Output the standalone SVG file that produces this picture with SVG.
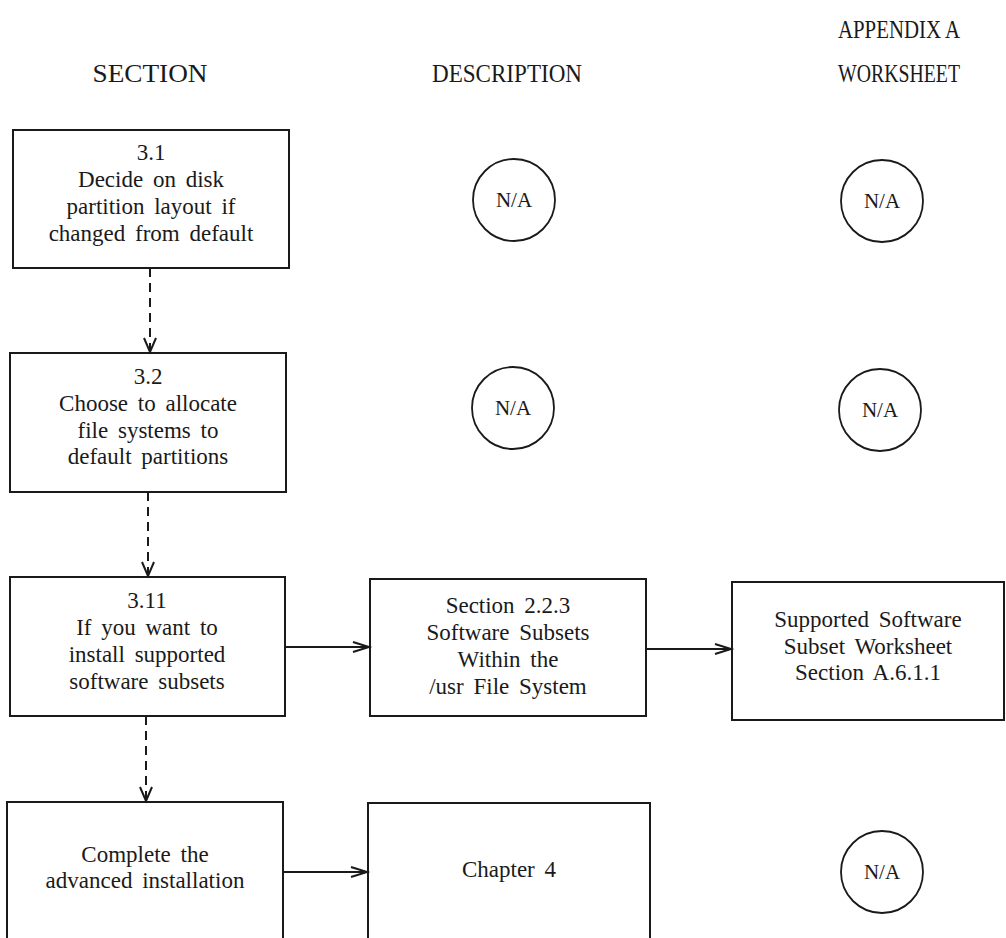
<svg xmlns="http://www.w3.org/2000/svg" width="1006" height="938" viewBox="0 0 1006 938">
<style>
.bg{fill:#ffffff}
.box{fill:none;stroke:#1a1a1a;stroke-width:2}
.circ{fill:none;stroke:#1a1a1a;stroke-width:1.8}
.t{font-family:"Liberation Serif","Times New Roman",serif;font-size:23px;fill:#1a1a1a;text-anchor:middle;word-spacing:4px}
.h{font-family:"Liberation Serif","Times New Roman",serif;font-size:26px;fill:#1a1a1a;text-anchor:middle}
.na{font-family:"Liberation Serif","Times New Roman",serif;font-size:21px;fill:#1a1a1a;text-anchor:middle}
.solid{stroke:#1a1a1a;stroke-width:2;fill:none}
.dash{stroke:#1a1a1a;stroke-width:2;fill:none;stroke-dasharray:9 6}
.head{stroke:#1a1a1a;stroke-width:2;fill:none;stroke-linejoin:miter}
</style>
<rect class="bg" x="0" y="0" width="1006" height="938"/>

<g id="headers">
<text class="h" x="150" y="82" textLength="115" lengthAdjust="spacingAndGlyphs">SECTION</text>
<text class="h" x="507" y="82" textLength="150" lengthAdjust="spacingAndGlyphs">DESCRIPTION</text>
<text class="h" x="899" y="38" textLength="122" lengthAdjust="spacingAndGlyphs">APPENDIX A</text>
<text class="h" x="899" y="82" textLength="122" lengthAdjust="spacingAndGlyphs">WORKSHEET</text>
</g>

<g id="n31">
<rect class="box" x="13" y="130" width="276" height="138"/>
<text class="t" x="151" y="160">3.1</text>
<text class="t" x="151" y="187">Decide on disk</text>
<text class="t" x="151" y="214">partition layout if</text>
<text class="t" x="151" y="241">changed from default</text>
</g>

<g id="n32">
<rect class="box" x="10" y="353" width="276" height="139"/>
<text class="t" x="148" y="384">3.2</text>
<text class="t" x="148" y="411">Choose to allocate</text>
<text class="t" x="148" y="438">file systems to</text>
<text class="t" x="148" y="464">default partitions</text>
</g>

<g id="n311">
<rect class="box" x="10" y="577" width="275" height="139"/>
<text class="t" x="147" y="608">3.11</text>
<text class="t" x="147" y="635">If you want to</text>
<text class="t" x="147" y="662">install supported</text>
<text class="t" x="147" y="689">software subsets</text>
</g>

<g id="ncomplete">
<rect class="box" x="7" y="802" width="276" height="150"/>
<text class="t" x="145" y="862">Complete the</text>
<text class="t" x="145" y="888">advanced installation</text>
</g>

<g id="nsec223">
<rect class="box" x="370" y="579" width="276" height="137"/>
<text class="t" x="508" y="613">Section 2.2.3</text>
<text class="t" x="508" y="640">Software Subsets</text>
<text class="t" x="508" y="667">Within the</text>
<text class="t" x="508" y="694">/usr File System</text>
</g>

<g id="nworksheet">
<rect class="box" x="732" y="582" width="272" height="138"/>
<text class="t" x="868" y="627">Supported Software</text>
<text class="t" x="868" y="654">Subset Worksheet</text>
<text class="t" x="868" y="680">Section A.6.1.1</text>
</g>

<g id="nchapter4">
<rect class="box" x="368" y="803" width="282" height="150"/>
<text class="t" x="509" y="877">Chapter 4</text>
</g>

<g id="na1"><circle class="circ" cx="514" cy="200" r="41"/><text class="na" x="514" y="207">N/A</text></g>
<g id="na2"><circle class="circ" cx="882" cy="201" r="41"/><text class="na" x="882" y="208">N/A</text></g>
<g id="na3"><circle class="circ" cx="513" cy="408" r="41"/><text class="na" x="513" y="415">N/A</text></g>
<g id="na4"><circle class="circ" cx="880" cy="410" r="41"/><text class="na" x="880" y="417">N/A</text></g>
<g id="na5"><circle class="circ" cx="882" cy="872" r="41"/><text class="na" x="882" y="879">N/A</text></g>

<g id="connectors">
<line class="dash" x1="150" y1="268" x2="150" y2="352"/>
<polyline class="head" points="144,338 150,352 156,338"/>
<line class="dash" x1="148" y1="492" x2="148" y2="576"/>
<polyline class="head" points="142,562 148,576 154,562"/>
<line class="dash" x1="146" y1="716" x2="146" y2="801"/>
<polyline class="head" points="140,787 146,801 152,787"/>
<line class="solid" x1="285" y1="647" x2="369" y2="647"/>
<polyline class="head" points="353,642 369,647 353,652"/>
<line class="solid" x1="646" y1="649" x2="731" y2="649"/>
<polyline class="head" points="715,644 731,649 715,654"/>
<line class="solid" x1="283" y1="872" x2="367" y2="872"/>
<polyline class="head" points="351,867 367,872 351,877"/>
</g>
</svg>
